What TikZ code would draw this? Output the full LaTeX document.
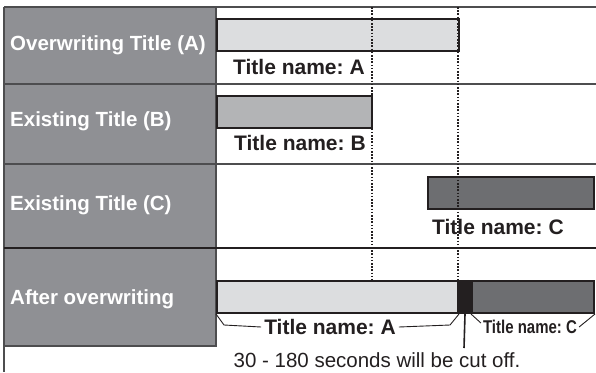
\documentclass[tikz,border=0pt]{standalone}
\usepackage{fontspec}
\setmainfont{Liberation Sans}
\usetikzlibrary{positioning, calc}

\definecolor{headgray}{HTML}{8F9094}
\definecolor{rulegray}{HTML}{4D4D4F}
\definecolor{barlight}{HTML}{DCDDDF}
\definecolor{barmid}{HTML}{B3B4B6}
\definecolor{bardark}{HTML}{6D6E71}
\definecolor{inkblack}{HTML}{231F20}

\begin{document}
\frenchspacing
\begin{tikzpicture}[
    x=1pt, y=-1pt,
    % Styles
    rowlabel/.style={anchor=west, inner sep=1pt, text=white, font=\fontsize{20.5}{24}\selectfont\bfseries},
    namelabel/.style={anchor=west, inner sep=1pt, text=inkblack, font=\fontsize{21}{24}\selectfont\bfseries},
    bar/.style={draw=inkblack, line width=2pt, rectangle, anchor=north west, minimum height=32, inner sep=0pt},
    rule/.style={draw=rulegray, line width=1.2pt},
    guide/.style={draw=inkblack, line width=1.6pt, dash pattern=on 1.6pt off 1.6pt},
    bracket/.style={draw=inkblack, line width=0.9pt}
    ]
    \useasboundingbox (0,0) rectangle (596,372);

    % 1. Header column and grid
    \fill[headgray] (4,7) rectangle (216,346);
    \draw[rule] (4,7) -- (596,7);
    \draw[rule] (4,84) -- (596,84);
    \draw[rule] (4,164) -- (596,164);
    \draw[rule] (216,7) -- (216,346) -- (4,346);
    \draw[rule] (4,7) -- (4,372);
    \draw[draw=inkblack, line width=2.6pt] (4,248) -- (596,248);

    % 2. Row headers
    \node (headA) [rowlabel] at (9,45) {Overwriting Title (A)};
    \node (headB) [rowlabel] at (9,121) {Existing Title (B)};
    \node (headC) [rowlabel] at (9,205) {Existing Title (C)};
    \node (headR) [rowlabel] at (9,299) {After overwriting};

    % 3. Titles before overwriting
    \node (barA) [bar, fill=barlight, minimum width=242] at (216,18) {};
    \node (nameA) [namelabel] at (232,67) {Title name: A};
    \node (barB) [bar, fill=barmid, minimum width=155] at (216,95) {};
    \node (nameB) [namelabel] at (233,143) {Title name: B};
    \node (barC) [bar, fill=bardark, minimum width=166] at (427,176) {};
    \node (nameC) [namelabel] at (431,227) {Title name: C};

    % 4. Result after overwriting
    \node (resA) [bar, fill=barlight, minimum width=241] at (216,280) {};
    \node (resCut) [bar, fill=inkblack, minimum width=14] at (457,280) {};
    \node (resC) [bar, fill=bardark, minimum width=122] at (471,280) {};

    % Dotted guides (drawn over the bars)
    \coordinate (guideB) at (372,7);
    \coordinate (guideA) at (458,7);
    \draw[guide] (guideB) -- (guideB |- resA.north);
    \draw[guide] (guideA) -- (guideA |- resA.north);

    % Brackets under the result
    \node (resNameA) [namelabel, inner sep=3pt, anchor=center] at (330,327) {Title name: A};
    \node (resNameC) [namelabel, inner sep=2pt, anchor=center, font=\fontsize{18.5}{20}\selectfont\bfseries] at (530,327) {\scalebox{0.81}[1]{Title name: C}};
    \draw[bracket] (resA.south west) -- (224,325) -- (resNameA.west);
    \draw[bracket] (resNameA.east) -- (450,325) -- (resA.south east);
    \draw[bracket] (resC.south west) -- ($(resNameC.west)+(0,-4)$);
    \draw[bracket] ($(resNameC.east)+(0,0)$) -- (resC.south east);

    % Cut-off note
    \node (note) [inner sep=1pt, text=inkblack, font=\fontsize{20.5}{24}\selectfont] at (377,360) {30 - 180 seconds will be cut off.};
    \coordinate (cutEnd) at (464,348);
    \draw[draw=inkblack, line width=1.6pt] (resCut.south) -- (cutEnd);
\end{tikzpicture}
\end{document}
